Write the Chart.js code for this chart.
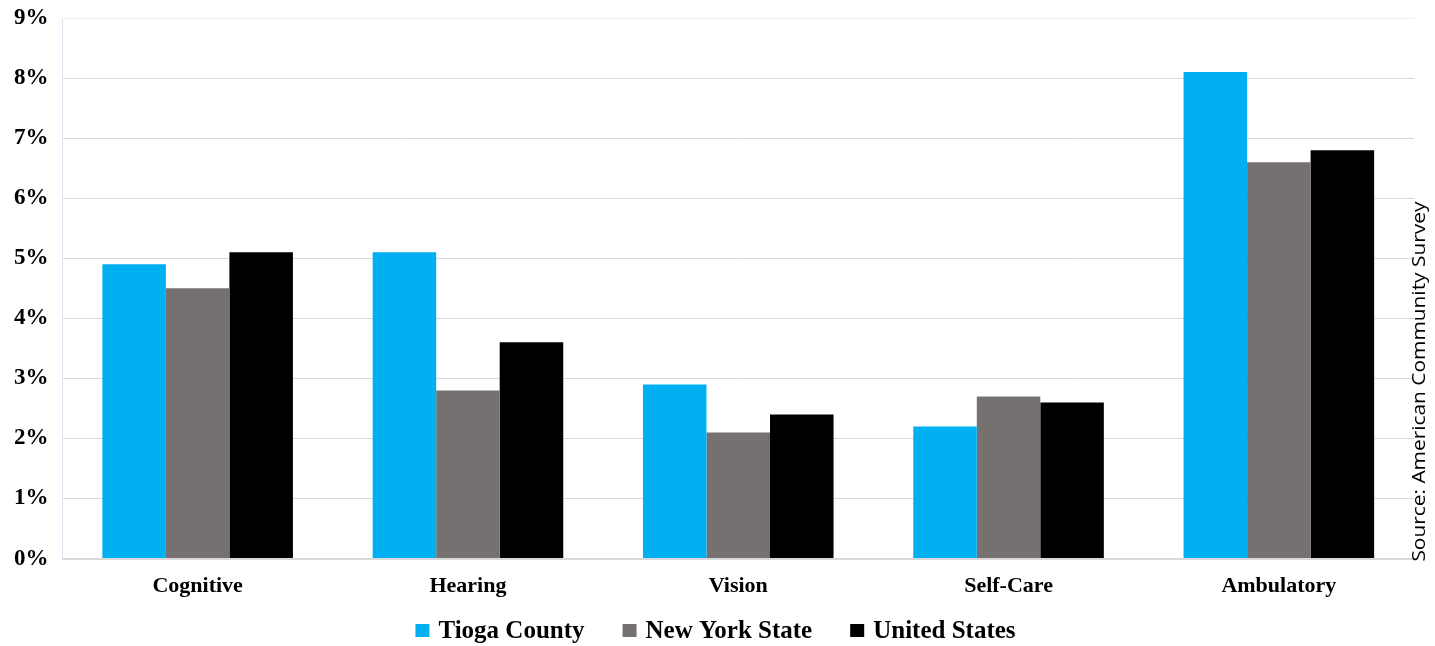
<!DOCTYPE html>
<html>
<head>
<meta charset="utf-8">
<script src="https://cdn.jsdelivr.net/npm/chart.js@4"></script>
<style>
  html,body{margin:0;padding:0;background:#fff;}
  #wrap{width:1435px;height:646px;position:relative;}
</style>
</head>
<body>
<div id="wrap"><canvas id="c"></canvas></div>
<script>
const categories = ['Cognitive','Hearing','Vision','Self-Care','Ambulatory'];
const tioga = [4.9, 5.1, 2.9, 2.2, 8.1];
const nyState = [4.5, 2.8, 2.1, 2.7, 6.6];
const usa = [5.1, 3.6, 2.4, 2.6, 6.8];
const sourceText = 'Source: American Community Survey';

const serif = "'Liberation Serif', 'DejaVu Serif', serif";

// rotated source note on the right edge, stretched to the picture's length
const sourceNote = {
  id:'sourceNote',
  afterDraw(chart){
    const ctx = chart.ctx, a = chart.chartArea;
    ctx.save();
    ctx.font = "18px 'Open Sans', 'DejaVu Sans', sans-serif";
    const w = ctx.measureText(sourceText).width;
    ctx.translate(a.right + 6, a.bottom + 3);
    ctx.rotate(-Math.PI/2);
    ctx.scale(360 / w, 1);
    ctx.fillStyle = '#000';
    ctx.textAlign = 'left';
    ctx.textBaseline = 'middle';
    ctx.fillText(sourceText, 0, 0);
    ctx.restore();
  }
};

// legend drawn by hand: square box, small gap, wide spacing between items
const bottomLegend = {
  id:'bottomLegend',
  afterDraw(chart){
    const ctx = chart.ctx;
    const sets = chart.data.datasets;
    const box = 14, gapText = 9, gapItem = 38, y = 631;
    ctx.save();
    ctx.font = "bold 25px " + serif;
    const widths = sets.map(d => box + gapText + ctx.measureText(d.label).width);
    const total = widths.reduce((s,v)=>s+v,0) + gapItem*(sets.length-1);
    let x = (chart.width - total)/2 - 2;
    ctx.textBaseline = 'middle';
    ctx.textAlign = 'left';
    sets.forEach((d,i)=>{
      ctx.fillStyle = d.backgroundColor;
      ctx.fillRect(x, y - 7, box, 13);
      ctx.fillStyle = '#000';
      ctx.fillText(d.label, x + box + gapText, y + 1);
      x += widths[i] + gapItem;
    });
    ctx.restore();
  }
};

new Chart(document.getElementById('c'), {
  type:'bar',
  data:{
    labels:categories,
    datasets:[
      {label:'Tioga County', data:tioga, backgroundColor:'#00b0f0'},
      {label:'New York State', data:nyState, backgroundColor:'#767171'},
      {label:'United States', data:usa, backgroundColor:'#000000'}
    ]
  },
  options:{
    responsive:true,
    maintainAspectRatio:false,
    animation:false,
    layout:{padding:{top:0,right:21,bottom:31,left:0}},
    datasets:{bar:{categoryPercentage:0.705, barPercentage:1.0}},
    plugins:{
      legend:{display:false},
      tooltip:{enabled:false}
    },
    scales:{
      x:{
        grid:{display:false, drawTicks:false},
        border:{color:'#d9d9d9', width:2},
        ticks:{
          color:'#000',
          padding:15,
          font:{family:serif, size:22, weight:'bold'}
        }
      },
      y:{
        min:0,
        max:9,
        afterFit(s){ s.paddingTop = 18; },
        grid:{
          color:ctx => ctx.tick && ctx.tick.value === 9 ? '#e9eff6' : '#d9d9d9',
          drawTicks:false
        },
        border:{color:'#dce6f2', width:1},
        ticks:{
          stepSize:1,
          color:'#000',
          padding:14,
          font:{family:serif, size:23, weight:'bold'},
          callback:v => v + '%'
        }
      }
    }
  },
  plugins:[sourceNote, bottomLegend]
});
</script>
</body>
</html>
